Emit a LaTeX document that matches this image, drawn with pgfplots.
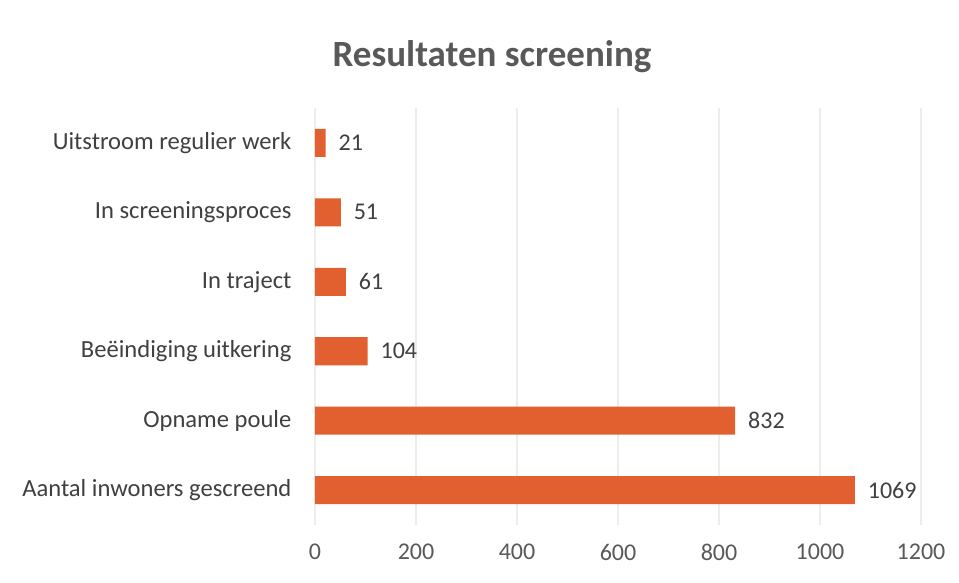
\documentclass[border=0pt]{standalone}
\usepackage{fontspec}
\setmainfont{Carlito}
\usepackage{pgfplots}
\pgfplotsset{compat=1.18}
\definecolor{barorange}{HTML}{E2602F}
\definecolor{txtgray}{HTML}{595959}
\definecolor{lblgray}{HTML}{404040}
\begin{document}
\begin{tikzpicture}
\path[use as bounding box, fill=white] (-157.5pt,-29pt) rectangle (322pt,262.5pt);
\begin{axis}[
    at={(0,0)}, anchor=south west,
    scale only axis,
    width=303pt, height=208.5pt,
    xbar, bar width=14pt,
    xmin=0, xmax=1200,
    ymin=-0.5, ymax=5.5,
    xtick={0,200,...,1200},
    ytick={0,1,2,3,4,5},
    yticklabels={Aantal inwoners gescreend, Opname poule, Beëindiging uitkering,
                 In traject, In screeningsproces, Uitstroom regulier werk},
    xmajorgrids, grid style={draw=gray!14, line width=0.6pt},
    axis line style={draw=none},
    tick style={draw=none},
    x tick label style={font=\fontsize{12}{14}\selectfont, text=txtgray, yshift=-6pt},
    y tick label style={font=\fontsize{12.3}{14}\selectfont, text=lblgray, xshift=-4pt},
    /pgf/number format/.cd, 1000 sep={}, assume math mode=true, /pgfplots/.cd,
    nodes near coords,
    nodes near coords style={font=\fontsize{12}{14}\selectfont, text=lblgray, xshift=3pt},
    clip=false,
]
\addplot[fill=barorange, draw=none] coordinates {
    (1069,0) (832,1) (104,2) (61,3) (51,4) (21,5)};
\end{axis}
\node[font=\bfseries\fontsize{18.5}{22}\selectfont, text=txtgray] at (88.5pt,234pt) {Resultaten screening};
\end{tikzpicture}
\end{document}
